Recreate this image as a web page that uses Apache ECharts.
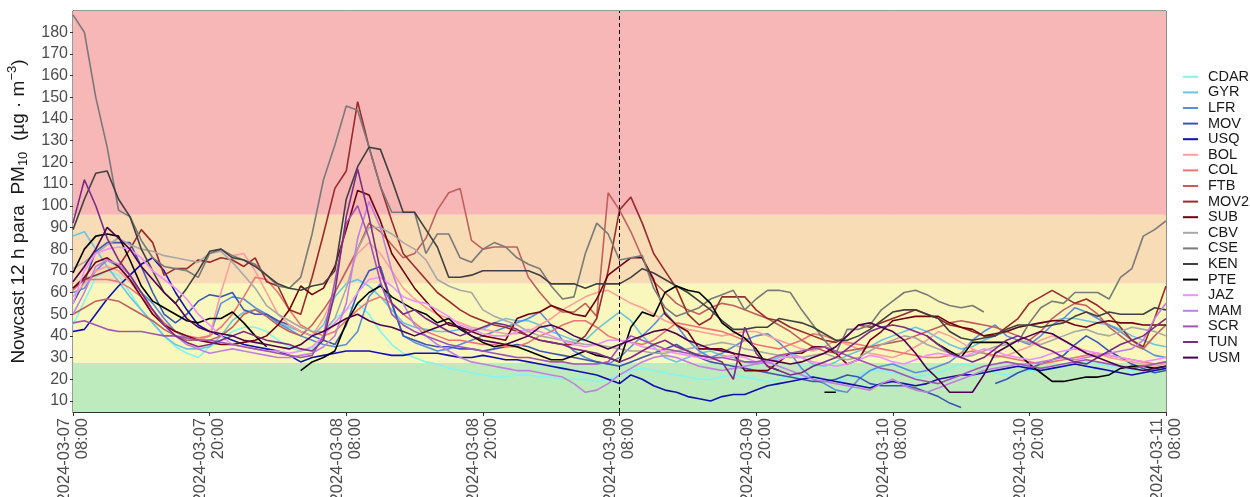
<!DOCTYPE html>
<html>
<head>
<meta charset="utf-8">
<script src="https://cdn.jsdelivr.net/npm/echarts@6/dist/echarts.min.js"></script>
<style>
  html, body { margin: 0; background: #fff; }
  #chart { width: 1250px; height: 497px; }
</style>
</head>
<body>
<div id="chart"></div>
<script>
// hourly Nowcast PM10 values, 2024-03-07 08:00 .. 2024-03-11 08:00 (97 hours)
const stations = ['CDAR','GYR','LFR','MOV','USQ','BOL','COL','FTB','MOV2','SUB',
                  'CBV','CSE','KEN','PTE','JAZ','MAM','SCR','TUN','USM'];
const colors = ['#84F5EE','#6BC4E0','#5A8EDB','#3A55B5','#1010B0','#FF9E9E','#EB7575','#C0605E','#982B2B','#700010',
                '#A8A8A8','#7A7A7A','#404040','#000000','#EE90FF','#C27FDF','#A154B4','#7B2C84','#4B004F'];
const yTicks = [10,20,30,40,50,60,70,80,90,100,110,120,130,140,150,160,170,180];
const bandLimits = [4.9, 27.6, 64.2, 95.8, 189.8];
const bandColors = ['#BEEBBD', '#FAF7BC', '#F8DCB6', '#F7B7B7'];
const markerHour = 48;

const CDAR = [45,56,67,70,68,60,52,46,40,35,32,30,
  35,38,42,44,44,42,38,35,33,34,40,48,
  52,55,50,42,36,32,30,28,27,25,24,23,
  22,21,21,22,22,21,21,20,20,20,19,20,
  22,24,25,24,23,22,21,20,20,21,22,21,
  20,19,20,21,22,21,20,19,20,22,24,24,
  23,22,21,22,23,25,27,26,24,23,22,23,
  24,24,25,26,27,28,27,26,25,24,26,27,
  27];
const GYR = [86,88,80,72,65,58,52,46,40,36,34,34,
  35,40,47,51,52,50,46,44,42,40,45,58,
  64,66,63,58,52,46,44,43,42,42,43,43,
  43,46,48,47,47,45,42,40,38,38,43,47,
  51,47,40,35,30,28,30,32,33,31,30,28,
  27,28,30,32,30,27,26,28,31,33,35,38,
  40,42,44,42,39,36,34,35,38,40,42,44,
  45,46,47,48,48,47,46,45,43,40,38,36,
  35];
const LFR = [60,62,70,75,72,66,60,55,48,42,39,38,
  40,55,58,57,53,50,46,43,40,38,36,35,
  36,42,58,64,55,40,37,35,33,34,36,38,
  40,42,44,46,48,51,45,38,33,30,28,27,
  30,35,40,45,51,45,38,33,30,32,35,38,
  40,41,37,32,25,20,18,15,14,20,24,26,
  27,25,23,24,26,28,32,38,42,45,40,38,
  36,40,45,48,53,51,48,45,42,38,34,31,
  30];
const MOV = [55,65,79,83,83,83,72,60,50,46,50,56,
  59,58,60,52,50,50,47,45,42,40,38,36,
  45,60,70,72,55,40,38,36,35,35,34,34,
  33,34,35,36,35,33,32,31,30,29,28,27,
  26,28,30,32,34,36,33,30,28,27,26,25,
  24,23,22,21,20,19,19,20,22,21,18,17,
  17,17,16,14,12,9,7,null,null,18,20,23,
  25,27,29,31,36,40,37,33,30,27,25,23,
  24];
const USQ = [42,43,50,57,63,68,73,76,70,60,52,45,
  42,40,38,36,35,34,33,31,28,30,31,32,
  33,33,33,32,31,31,32,32,32,31,30,30,
  31,30,29,29,28,27,26,25,24,23,22,20,
  18,22,20,17,15,14,12,11,10,12,13,13,
  15,17,18,19,20,21,20,19,18,17,16,18,
  19,18,17,18,20,21,22,22,23,24,25,26,
  25,24,25,26,27,26,25,24,23,22,23,24,
  25];
const BOL = [58,64,70,72,70,65,58,50,45,42,40,38,
  40,60,77,78,70,60,50,45,42,40,48,60,
  70,78,83,78,70,62,57,53,50,48,46,44,
  43,42,41,41,42,45,48,52,55,58,60,61,
  58,55,53,50,47,45,43,42,41,40,41,42,
  42,40,38,36,34,33,35,38,36,34,32,31,
  30,32,35,38,42,40,37,34,32,30,31,33,
  35,38,40,38,35,33,32,30,29,28,27,26,
  27];
const COL = [61,66,66,66,65,62,58,52,46,42,40,39,
  40,44,50,58,67,66,60,52,45,42,40,42,
  47,52,56,58,55,50,46,42,40,38,38,37,
  36,36,35,35,37,40,42,45,47,47,44,40,
  38,37,36,38,42,46,45,44,43,42,40,38,
  36,35,34,36,38,41,40,38,37,36,35,34,
  33,32,31,30,30,31,32,33,32,31,30,29,
  28,27,28,29,30,31,32,31,30,29,28,27,
  28];
const FTB = [50,53,56,57,56,53,50,47,43,40,38,38,
  38,40,44,50,52,49,45,42,40,45,52,60,
  70,80,92,88,82,76,78,85,98,106,108,84,
  80,81,81,81,67,60,54,51,51,55,49,106,
  98,88,76,65,60,55,52,50,53,55,54,52,
  50,48,45,42,38,35,33,32,33,34,35,36,
  37,38,40,42,44,46,47,46,45,44,42,40,
  38,42,48,52,55,54,50,44,40,36,34,40,
  45];
const MOV2 = [62,66,68,70,72,80,89,83,68,71,71,75,
  74,76,75,72,76,65,63,52,50,67,87,108,
  116,148,127,109,93,78,72,66,60,56,52,49,
  47,45,44,42,40,38,37,36,36,40,48,70,
  98,104,92,78,70,62,50,45,48,58,58,58,
  52,48,47,44,42,40,38,37,40,45,44,46,
  48,50,52,50,48,45,44,42,40,40,44,48,
  55,58,61,58,55,57,54,50,44,38,35,48,
  63];
const SUB = [62,67,74,76,72,66,58,50,45,42,40,38,
  37,36,36,37,38,40,45,52,63,59,62,72,
  89,107,105,93,78,70,62,56,50,45,44,42,
  40,39,38,48,50,51,54,52,50,49,57,68,
  72,76,76,66,50,45,42,34,34,34,32,24,
  24,24,28,32,32,35,35,32,27,29,38,42,
  47,48,49,49,49,46,44,43,40,41,42,44,
  45,46,47,47,45,44,46,47,46,46,45,45,
  45];
const CBV = [71,74,78,82,85,82,80,79,77,76,75,74,
  78,79,74,68,62,54,50,47,44,42,42,48,
  62,80,90,90,87,83,80,75,66,63,61,60,
  52,49,47,45,42,40,39,38,37,36,36,35,
  34,33,33,32,32,33,34,35,36,37,36,34,
  33,32,31,30,30,31,32,30,29,30,33,36,
  38,40,39,36,34,32,30,31,33,35,36,38,
  37,36,38,40,42,43,41,40,42,44,43,42,
  40];
const CSE = [188,180,150,127,98,95,84,76,72,71,70,67,
  78,80,77,75,73,68,63,62,67,87,112,128,
  146,144,127,109,97,97,97,78,87,87,76,74,
  80,83,81,76,73,71,63,57,58,78,92,87,
  75,76,77,62,53,49,51,53,57,59,61,52,
  57,61,61,60,52,45,38,32,43,43,45,52,
  56,60,61,59,56,54,53,54,51,null,null,37,
  46,53,56,55,60,60,60,57,67,71,86,89,
  93];
const KEN = [89,103,115,116,103,95,80,70,60,55,62,70,
  79,80,76,75,72,68,64,62,61,63,64,70,
  103,118,127,126,112,97,97,89,81,67,67,68,
  70,70,70,70,70,68,64,64,64,62,64,64,
  64,67,71,69,66,63,60,56,52,47,43,43,
  44,44,48,47,46,44,41,38,38,40,43,47,
  51,52,52,50,48,42,39,38,39,40,43,45,
  45,44,45,46,49,51,49,51,50,50,50,53,
  52];
const PTE = [69,80,86,87,86,75,63,56,53,50,47,46,
  48,48,51,46,40,35,null,null,24,28,30,33,
  46,55,60,63,58,55,52,50,46,48,43,40,
  37,35,36,35,33,31,29,29,31,33,31,30,
  28,44,51,49,60,63,61,60,55,46,42,39,
  34,26,24,null,null,null,14,14,null,null,null,null,
  null,null,null,40,36,33,30,37,37,37,37,32,
  27,23,19,19,20,21,21,22,25,26,26,25,
  26];
const JAZ = [55,70,78,80,81,80,76,70,66,62,57,50,
  45,40,36,35,34,33,33,32,33,35,40,46,
  52,60,66,67,63,58,56,55,52,49,45,43,
  41,40,40,42,43,42,40,38,36,35,36,38,
  38,37,35,34,33,32,31,30,29,30,31,30,
  28,27,29,31,30,28,27,26,27,29,31,30,
  28,27,29,31,32,31,30,32,34,33,31,30,
  29,30,32,33,34,33,32,31,30,29,28,29,
  30];
const MAM = [50,60,72,75,73,68,60,52,45,40,36,34,
  32,33,34,33,32,31,30,30,31,32,35,40,
  55,85,102,90,70,55,45,40,36,33,30,28,
  27,26,25,24,24,23,22,21,18,14,15,18,
  22,25,28,30,31,30,28,26,25,24,25,26,
  27,28,26,24,22,20,19,18,17,16,15,18,
  20,17,15,14,16,18,20,22,24,25,26,27,
  27,28,29,30,29,30,31,32,33,34,38,48,
  55];
const SCR = [46,47,45,43,42,42,42,41,40,40,39,38,
  38,37,36,35,34,33,32,31,30,31,40,65,
  92,100,85,65,50,45,42,40,38,36,35,34,
  33,32,31,30,30,29,28,28,27,27,27,28,
  35,40,38,36,34,33,32,31,30,30,29,28,
  28,29,31,32,33,34,35,33,31,29,27,25,
  24,22,20,19,18,20,22,24,26,27,28,27,
  26,25,26,27,28,29,28,27,26,25,26,27,
  28];
const TUN = [92,112,100,85,75,68,60,52,45,40,37,35,
  36,38,40,42,40,38,37,36,34,33,38,60,
  95,117,95,70,55,50,52,48,45,42,40,42,
  44,46,45,43,40,38,37,36,34,33,32,30,
  28,30,33,36,38,35,33,31,30,28,20,44,
  32,26,24,22,23,26,28,30,34,38,42,44,
  45,44,42,40,36,32,30,28,30,34,38,40,
  38,35,33,30,28,27,30,33,36,38,40,44,
  48];
const USM = [65,72,80,90,85,80,72,66,60,55,48,44,
  42,41,40,38,37,36,35,34,36,40,42,45,
  48,50,47,45,44,42,40,42,44,46,44,40,
  38,37,36,38,40,44,45,43,40,38,36,34,
  36,38,40,42,43,41,38,36,34,33,32,31,
  30,29,28,27,28,30,32,35,40,45,46,44,
  42,38,32,25,20,14,14,14,22,32,35,38,
  40,42,41,38,35,32,30,28,26,25,24,25,
  26];

const seriesValues = [CDAR, GYR, LFR, MOV, USQ, BOL, COL, FTB, MOV2, SUB,
                      CBV, CSE, KEN, PTE, JAZ, MAM, SCR, TUN, USM];

// hourly category labels
const categories = [];
const t0 = Date.UTC(2024, 2, 7, 8);
const pad = n => String(n).padStart(2, '0');
for (let i = 0; i < CDAR.length; i++) {
  const d = new Date(t0 + i * 3600000);
  categories.push(d.getUTCFullYear() + '-' + pad(d.getUTCMonth() + 1) + '-' + pad(d.getUTCDate()) +
    '\n' + pad(d.getUTCHours()) + ':' + pad(d.getUTCMinutes()));
}

const font = 'Liberation Sans, Arial, sans-serif';

const bandAreas = [];
for (let i = 0; i < bandColors.length; i++) {
  bandAreas.push([
    { yAxis: bandLimits[i], itemStyle: { color: bandColors[i] } },
    { yAxis: bandLimits[i + 1] }
  ]);
}

const series = [{
  name: 'bands',
  type: 'line',
  data: categories.map(() => null),
  z: 1,
  silent: true,
  lineStyle: { opacity: 0 },
  showSymbol: false,
  markArea: { silent: true, itemStyle: { opacity: 1 }, data: bandAreas },
  markLine: {
    silent: true,
    symbol: 'none',
    label: { show: false },
    lineStyle: { color: '#000', type: [4, 3], width: 1 },
    data: [{ xAxis: markerHour }]
  }
}];
stations.forEach((s, i) => {
  series.push({
    name: s,
    type: 'line',
    data: seriesValues[i],
    color: colors[i],
    showSymbol: false,
    connectNulls: false,
    z: 3,
    lineStyle: { width: 1.6 }
  });
});

const chart = echarts.init(document.getElementById('chart'));
chart.setOption({
  animation: false,
  textStyle: { fontFamily: font },
  grid: {
    left: 73, right: 84, top: 11, bottom: 85,
    outerBoundsMode: 'none',
    show: true, borderColor: '#333', borderWidth: 1
  },
  legend: {
    data: stations,
    orient: 'vertical',
    left: 1178,
    top: 64,
    icon: 'rect',
    itemWidth: 15,
    itemHeight: 2,
    itemGap: 0,
    textStyle: { fontFamily: font, fontSize: 14.5, color: '#1a1a1a', lineHeight: 15.6, padding: [0, 0, 0, 5] }
  },
  xAxis: {
    type: 'category',
    data: categories,
    boundaryGap: false,
    axisLine: { lineStyle: { color: '#333' } },
    axisTick: { interval: 11, length: 4, lineStyle: { color: '#333' } },
    axisLabel: { interval: 11, rotate: 90, fontSize: 16.5, lineHeight: 18, color: '#4D4D4D', margin: 6, fontFamily: font },
    splitLine: { show: true, interval: 5, lineStyle: { color: 'rgba(0,0,0,0.06)', width: 1 } }
  },
  yAxis: {
    type: 'value',
    min: bandLimits[0],
    max: bandLimits[bandLimits.length - 1],
    axisLine: { show: true, lineStyle: { color: '#333' } },
    axisTick: { show: true, length: 3, customValues: yTicks, lineStyle: { color: '#333' } },
    axisLabel: { customValues: yTicks, fontSize: 16, color: '#4D4D4D', margin: 5, fontFamily: font },
    splitLine: { show: false },
    name: 'Nowcast 12 h para  PM{sub|10}  (µg · m{sup|−3})',
    nameLocation: 'middle',
    nameRotate: 90,
    nameGap: 38,
    nameTextStyle: {
      fontSize: 19, color: '#1a1a1a', fontFamily: font, lineHeight: 24,
      rich: {
        sub: { fontSize: 13, verticalAlign: 'bottom', lineHeight: 14, color: '#1a1a1a', fontFamily: font },
        sup: { fontSize: 13, verticalAlign: 'top', lineHeight: 14, color: '#1a1a1a', fontFamily: font }
      }
    }
  },
  series: series
});
</script>
</body>
</html>
